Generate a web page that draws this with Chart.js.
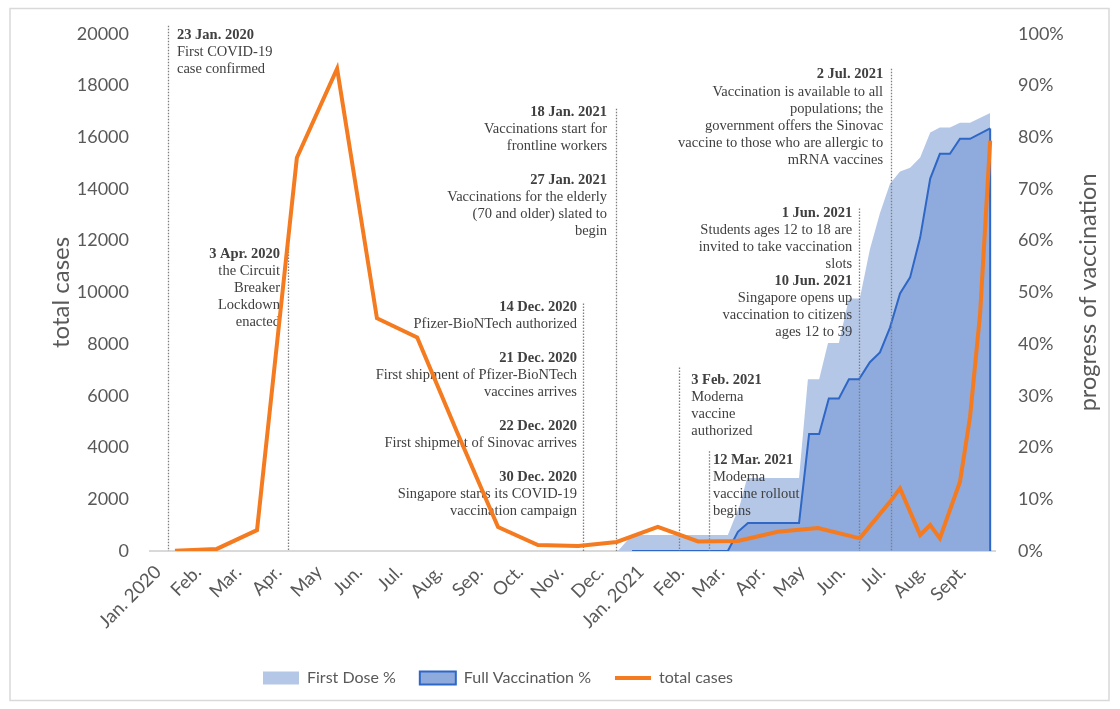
<!DOCTYPE html>
<html>
<head>
<meta charset="utf-8">
<script src="https://cdn.jsdelivr.net/npm/chart.js@4.4.0/dist/chart.umd.min.js"></script>
<style>
  html, body { margin: 0; padding: 0; background: #fff; }
</style>
</head>
<body>
<canvas id="chart" width="1120" height="709"></canvas>
<script>
// x axis = months since 1 Jan 2020
const monthLabels = ['Jan. 2020', 'Feb.', 'Mar.', 'Apr.', 'May', 'Jun.', 'Jul.', 'Aug.', 'Sep.', 'Oct.', 'Nov.', 'Dec.',
  'Jan. 2021', 'Feb.', 'Mar.', 'Apr.', 'May', 'Jun.', 'Jul.', 'Aug.', 'Sept.'];

// total cases (left axis)
const casesX = [0.62, 1.66, 2.66, 3.65, 4.65, 5.64, 6.64, 7.63, 8.65, 9.64, 10.64, 11.6, 12.62, 13.62, 14.61, 15.6, 16.6, 17.64,
  18.39, 18.64, 19.14, 19.39, 19.63, 20.13, 20.38, 20.63, 20.88];
const casesY = [13, 80, 810, 15210, 18650, 9000, 8260, 4600, 930, 230, 190, 350, 930, 370, 390, 745, 890, 490,
  1900, 2420, 620, 1000, 490, 2680, 5190, 9180, 15870];

// First Dose % (right axis)
const firstX = [11.63, 11.98, 14.36, 14.66, 14.84, 16.13, 16.35, 16.63, 16.85, 17.12, 17.37, 17.64, 17.89, 18.14, 18.39,
  18.64, 18.89, 19.14, 19.39, 19.63, 19.88, 20.13, 20.38, 20.88];
const firstY = [0, 3.1, 3.1, 8.9, 14.1, 14.1, 33.2, 33.2, 40.2, 40.2, 48.8, 48.8, 58.3, 65.3, 71.0,
  73.4, 74.1, 76.1, 80.9, 81.9, 81.9, 82.8, 82.8, 84.7];

// Full Vaccination % (right axis)
const fullX = [11.98, 14.36, 14.61, 14.86, 16.13, 16.38, 16.63, 16.87, 17.12, 17.37, 17.62, 17.89, 18.14, 18.39,
  18.64, 18.89, 19.14, 19.39, 19.63, 19.88, 20.13, 20.38, 20.88];
const fullY = [0, 0, 3.7, 5.4, 5.4, 22.6, 22.6, 29.5, 29.5, 33.2, 33.2, 36.5, 38.4, 43.2,
  49.8, 52.9, 60.6, 72.0, 76.8, 76.8, 79.7, 79.7, 81.7];

// dotted event lines: x (months) and top (in cases)
const eventX = [0.45, 3.43, 10.76, 11.58, 13.15, 13.89, 17.62, 18.42];
const eventTop = [20310, 11815, 9575, 17100, 7100, 3860, 13240, 18650];

// event notes (first line position in months / cases)
const notes = [
  {x: 0.67, y: 19960, align: 'left', lines: ['23 Jan. 2020', 'First COVID-19', 'case confirmed']},
  {x: 3.23, y: 11467, align: 'right', lines: ['3 Apr. 2020', 'the Circuit', 'Breaker', 'Lockdown', 'enacted']},
  {x: 10.61, y: 9421, align: 'right', lines: ['14 Dec. 2020', 'Pfizer-BioNTech authorized', '',
    '21 Dec. 2020', 'First shipment of Pfizer-BioNTech', 'vaccines arrives', '',
    '22 Dec. 2020', 'First shipment of Sinovac arrives', '',
    '30 Dec. 2020', 'Singapore starts its COVID-19', 'vaccination campaign']},
  {x: 11.36, y: 16950, align: 'right', lines: ['18 Jan. 2021', 'Vaccinations start for', 'frontline workers', '',
    '27 Jan. 2021', 'Vaccinations for the elderly', '(70 and older) slated to', 'begin']},
  {x: 13.45, y: 6602, align: 'left', lines: ['3 Feb. 2021', 'Moderna', 'vaccine', 'authorized']},
  {x: 13.99, y: 3514, align: 'left', lines: ['12 Mar. 2021', 'Moderna', 'vaccine rollout', 'begins']},
  {x: 17.45, y: 13050, align: 'right', lines: ['1 Jun. 2021', 'Students ages 12 to 18 are', 'invited to take vaccination',
    'slots', '10 Jun. 2021', 'Singapore opens up', 'vaccination to citizens', 'ages 12 to 39']},
  {x: 18.22, y: 18417, align: 'right', lines: ['2 Jul. 2021', 'Vaccination is available to all', 'populations; the',
    'government offers the Sinovac', 'vaccine to those who are allergic to', 'mRNA vaccines']}
];

const dateRe = /^\d{1,2} [A-Z][a-z]{2}\. \d{4}$/;
const pts = (xs, ys) => xs.map((v, i) => ({x: v, y: ys[i]}));

const frame = {
  id: 'frame',
  beforeDraw(chart) {
    const c = chart.ctx;
    c.save();
    c.fillStyle = '#fff';
    c.fillRect(0, 0, chart.width, chart.height);
    c.strokeStyle = '#d9d9d9';
    c.lineWidth = 1.5;
    c.strokeRect(10, 8.5, 1099, 692);
    c.restore();
  },
  afterLayout(chart) {
    // move legend block to match the original
    const lg = chart.legend;
    const start = (lg.left + lg.options.labels.padding + lg.right - lg.lineWidths[0]) / 2;
    const dx = start - 263;
    lg.left -= dx;
    lg.right -= dx;
  },
  afterDatasetDraw(chart, args) {
    if (args.index !== 1) return;
    const c = chart.ctx;
    const x = chart.scales.x, y = chart.scales.y;
    const base = y.getPixelForValue(0);
    c.save();
    // right edge of full vaccination area
    const last = args.meta.data[args.meta.data.length - 1];
    c.strokeStyle = '#2e67c5';
    c.lineWidth = 2;
    c.beginPath(); c.moveTo(last.x, last.y); c.lineTo(last.x, base); c.stroke();
    // event lines
    c.strokeStyle = '#7f7f7f';
    c.lineWidth = 1.3;
    c.setLineDash([1.5, 1.5]);
    eventX.forEach((v, i) => {
      const px = Math.round(x.getPixelForValue(v)) + 0.5;
      c.beginPath();
      c.moveTo(px, y.getPixelForValue(eventTop[i]));
      c.lineTo(px, base);
      c.stroke();
    });
    c.setLineDash([]);
    // notes
    c.fillStyle = '#404040';
    c.textBaseline = 'middle';
    notes.forEach(n => {
      const px = x.getPixelForValue(n.x);
      let py = y.getPixelForValue(n.y);
      c.textAlign = n.align;
      n.lines.forEach(t => {
        c.font = (dateRe.test(t) ? 'bold ' : '') + '14.5px "Liberation Serif"';
        c.fillText(t, px, py);
        py += 17;
      });
    });
    c.restore();
  },
  afterDraw(chart) {
    // right axis title reads bottom to top
    const c = chart.ctx;
    const a = chart.chartArea;
    c.save();
    c.translate(1088, (a.top + a.bottom) / 2);
    c.rotate(-Math.PI / 2);
    c.fillStyle = '#595959';
    c.font = '23.5px Lato';
    c.textAlign = 'center';
    c.textBaseline = 'middle';
    c.fillText('progress of vaccination', 0, 0);
    c.restore();
  }
};

new Chart(document.getElementById('chart').getContext('2d'), {
  type: 'line',
  data: {
    datasets: [
      {
        label: 'First Dose %',
        data: pts(firstX, firstY),
        yAxisID: 'y2',
        order: 2,
        fill: 'origin',
        backgroundColor: '#b4c7e7',
        borderColor: '#b4c7e7',
        borderWidth: 0,
        pointRadius: 0,
        pointStyle: 'rect',
        tension: 0
      },
      {
        label: 'Full Vaccination %',
        data: pts(fullX, fullY),
        yAxisID: 'y2',
        order: 1,
        fill: 'origin',
        backgroundColor: '#8faadc',
        borderColor: '#2e67c5',
        borderWidth: 2,
        pointRadius: 0,
        pointStyle: 'rect',
        tension: 0
      },
      {
        label: 'total cases',
        data: pts(casesX, casesY),
        yAxisID: 'y',
        order: 0,
        fill: false,
        borderColor: '#f47b20',
        backgroundColor: '#f47b20',
        borderWidth: 4,
        pointRadius: 0,
        pointStyle: 'line',
        tension: 0
      }
    ]
  },
  options: {
    responsive: false,
    animation: false,
    devicePixelRatio: 1,
    layout: {padding: {top: 33, bottom: 13, left: 0, right: 0}},
    plugins: {
      tooltip: {enabled: false},
      legend: {
        position: 'bottom',
        labels: {
          usePointStyle: true,
          pointStyleWidth: 36,
          boxHeight: 13,
          padding: 24,
          color: '#595959',
          font: {family: 'Lato', size: 16},
          sort: (a, b) => a.datasetIndex - b.datasetIndex
        }
      }
    },
    scales: {
      x: {
        type: 'linear',
        min: 0,
        max: 21,
        grid: {display: false, drawTicks: false},
        border: {display: true, color: '#d9d9d9', width: 2},
        ticks: {
          stepSize: 1,
          autoSkip: false,
          maxRotation: 45,
          minRotation: 45,
          labelOffset: 8,
          padding: 10,
          color: '#595959',
          font: {family: 'Lato', size: 18.5},
          callback: v => monthLabels[v] ?? ''
        },
        afterFit: s => { s.height = 95; }
      },
      y: {
        position: 'left',
        min: 0,
        max: 20000,
        grid: {display: false, drawTicks: false},
        border: {display: false},
        ticks: {
          stepSize: 2000,
          padding: 21,
          color: '#595959',
          font: {family: 'Lato', size: 18},
          callback: v => String(v)
        },
        title: {
          display: true,
          text: 'total cases',
          color: '#595959',
          font: {family: 'Lato', size: 24},
          padding: {top: 47, bottom: 0}
        },
        afterFit: s => { s.width = 150; }
      },
      y2: {
        position: 'right',
        min: 0,
        max: 100,
        grid: {display: false, drawTicks: false},
        border: {display: false},
        ticks: {
          stepSize: 10,
          padding: 23,
          color: '#595959',
          font: {family: 'Lato', size: 18},
          callback: v => v + '%'
        },
        afterFit: s => { s.width = 125; }
      }
    }
  },
  plugins: [frame]
});
</script>
</body>
</html>
